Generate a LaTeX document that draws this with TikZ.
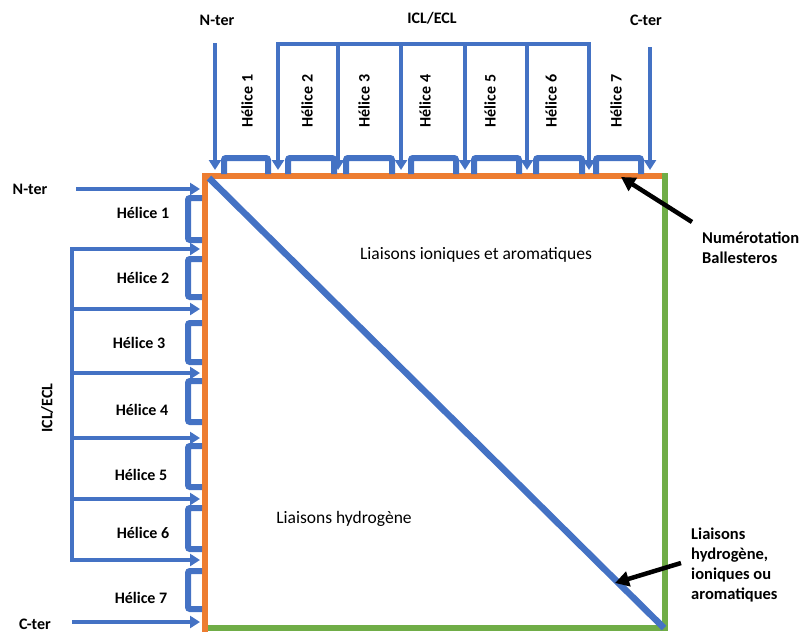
\documentclass[tikz,border=0pt]{standalone}
\usepackage{fontspec}
\setmainfont{Carlito}
\usetikzlibrary{arrows.meta}
\definecolor{cblue}{HTML}{4472C4}
\definecolor{corange}{HTML}{ED7D31}
\definecolor{cgreen}{HTML}{70AD47}
\begin{document}
\begin{tikzpicture}[x=1pt,y=-1pt,
  arr/.style={draw=cblue, line width=3.6pt, -{Triangle[width=12pt,length=10pt]}},
  blueline/.style={draw=cblue, line width=3.6pt},
  brk/.style={draw=cblue, line width=6pt, rounded corners=2pt},
  lbl/.style={font=\bfseries\fontsize{16}{18}\selectfont, inner sep=0pt},
  txt/.style={font=\fontsize{17.5}{20}\selectfont, inner sep=0pt},
  note/.style={font=\bfseries\fontsize{16.5}{20}\selectfont, inner sep=0pt, align=left},
  pointer/.style={draw=black, line width=4.5pt, -{Triangle[width=15pt,length=14pt]}}]
\useasboundingbox (0,0) rectangle (805,632);
% square
\draw[cgreen, line width=5.5pt] (205,176) rectangle (665,628);
\draw[corange, line width=6.5pt] (205,176) -- (662,176);
\draw[corange, line width=6.5pt] (205,173) -- (205,632);
\coordinate (dA) at (209,178);
\coordinate (dB) at (664,628);
\draw[cblue, line width=6.5pt] (dA) -- (dB);

% ---------- top ----------
\node[lbl] (tN) at (217,20) {N-ter};
\node[lbl] (tI) at (432,18) {ICL/ECL};
\node[lbl] (tC) at (646,20) {C-ter};
\coordinate (tNs) at (215,43);  \coordinate (tNe) at (215,170);
\coordinate (tCs) at (650,47);  \coordinate (tCe) at (650,170);
\draw[arr] (tNs) -- (tNe);
\draw[arr] (tCs) -- (tCe);
\foreach \x [count=\i] in {278,338,401,465,527,589}{
  \coordinate (ta\i) at (\x,44);
  \coordinate (tb\i) at (\x,170);
  \draw[arr] (ta\i) -- (tb\i);
}
\draw[blueline, line cap=rect] (ta1) -- (ta6);
% top brackets
\foreach \a/\b [count=\i] in {224/268,288/334,346/392,411/456,474/519,536/582,596/641}{
  \draw[brk] (\a,174) -- (\a,158) -- (\b,158) -- (\b,174);
}
% top labels
\foreach \x [count=\i] in {247,307,364,425,490,551,616}{
  \node[lbl, rotate=90] (th\i) at (\x,101) {Hélice \i};
}

% ---------- left ----------
\node[lbl] (lN) at (30,189) {N-ter};
\node[lbl] (lC) at (35,624) {C-ter};
\node[lbl, rotate=90] (lI) at (47,408) {ICL/ECL};
\coordinate (lNs) at (76,189);  \coordinate (lNe) at (200,189);
\coordinate (lCs) at (72,622);  \coordinate (lCe) at (200,622);
\draw[arr] (lNs) -- (lNe);
\draw[arr] (lCs) -- (lCe);
\foreach \y [count=\i] in {249,309,373,438,499,560}{
  \coordinate (la\i) at (72,\y);
  \coordinate (lb\i) at (200,\y);
  \draw[arr] (la\i) -- (lb\i);
}
\draw[blueline, line cap=rect] (la1) -- (la6);
% left brackets
\foreach \a/\b [count=\i] in {198/240,259/297,323/362,381/422,446/487,508/549,571/609}{
  \draw[brk] (202,\a) -- (188,\a) -- (188,\b) -- (202,\b);
}
\foreach \x/\y [count=\i] in {143/213,143/278,139/343,142/410,141/475,143/533,141/598}{
  \node[lbl] (lh\i) at (\x,\y) {Hélice \i};
}

% ---------- inner texts ----------
\node[txt] (ion) at (476,255) {Liaisons ioniques et aromatiques};
\node[txt] (hyd) at (344,519) {Liaisons hydrogène};

% ---------- right notes ----------
\node[note, anchor=west] (nb) at (702,248) {Numérotation\\Ballesteros};
\node[note, anchor=west] (lh) at (691,565) {Liaisons\\hydrogène,\\ioniques ou\\aromatiques};
\coordinate (p1s) at (692,222); \coordinate (p1e) at (621,177);
\coordinate (p2s) at (681,563); \coordinate (p2e) at (615,583);
\draw[pointer] (p1s) -- (p1e);
\draw[pointer] (p2s) -- (p2e);
\end{tikzpicture}
\end{document}
